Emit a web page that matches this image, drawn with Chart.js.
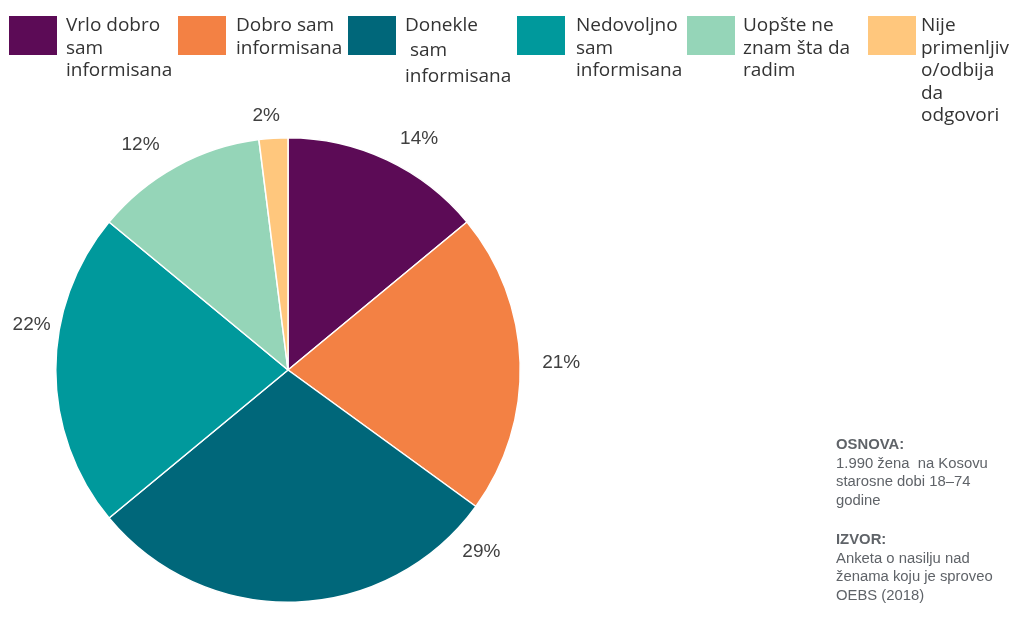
<!DOCTYPE html>
<html><head><meta charset="utf-8">
<script src="https://cdn.jsdelivr.net/npm/chart.js@4/dist/chart.umd.min.js"></script>
<style>
html,body{margin:0;padding:0;background:#fff;width:1013px;height:624px;overflow:hidden;}
#wrap{position:relative;width:1013px;height:624px;}
canvas{position:absolute;left:0;top:0;}
.sw{position:absolute;top:16px;width:48px;height:39px;}
.tx{position:absolute;font-family:"Open Sans","Noto Sans",sans-serif;font-size:19px;line-height:22.5px;color:#333;white-space:pre;}
#notes{position:absolute;left:836px;top:435px;font-family:"Liberation Sans",Arial,sans-serif;font-size:14px;line-height:18.5px;color:#5f6368;transform:scaleX(1.06);transform-origin:0 0;white-space:nowrap;}
#notes b{display:block;}
</style></head>
<body><div id="wrap"><canvas id="c" width="1013" height="624"></canvas><div id="legend"></div>
<div id="notes"><b>OSNOVA:</b>1.990 žena&nbsp; na Kosovu<br>starosne dobi 18–74<br>godine<div style="height:21px"></div><b>IZVOR:</b>Anketa o nasilju nad<br>ženama koju je sproveo<br>OEBS (2018)</div>
</div>
<script>
const categories = [
  ["Vrlo dobro", "sam", "informisana"],
  ["Dobro sam", "informisana"],
  ["Donekle", " sam", "informisana"],
  ["Nedovoljno", "sam", "informisana"],
  ["Uopšte ne", "znam šta da", "radim"],
  ["Nije", "primenljiv", "o/odbija", "da", "odgovori"]
];
const values = [14, 21, 29, 22, 12, 2];
const colors = ["#5C0B56", "#F38144", "#00677A", "#00999C", "#95D5B8", "#FFC77D"];
const legendX = [9, 178, 348, 517, 687, 868];
const legendTextX = [66, 236, 405, 576, 743, 921];
const legendLineH = [22.5, 22.5, 25.5, 22.5, 22.5, 22.5];
const labelAngleShift = [4.3, 0.3, -45, 9.9, -4.4, -1.3];
const labelRadiusExtra = [34, 41, 33, 28, 37, 23];

// legend (HTML so that labels wrap like the reference)
const lg = document.getElementById('legend');
categories.forEach((c, i) => {
  const sw = document.createElement('div');
  sw.className = 'sw';
  sw.style.left = legendX[i] + 'px';
  sw.style.background = colors[i];
  lg.appendChild(sw);
  const tx = document.createElement('div');
  tx.className = 'tx';
  tx.style.left = legendTextX[i] + 'px';
  tx.style.lineHeight = legendLineH[i] + 'px';
  tx.style.top = (13.4 - (legendLineH[i] - 22.5) / 2) + 'px';
  tx.textContent = c.join('\n');
  lg.appendChild(tx);
});

const labelPlugin = {
  id: 'pctLabels',
  afterDatasetsDraw(chart) {
    const ctx = chart.ctx;
    const meta = chart.getDatasetMeta(0);
    ctx.save();
    ctx.font = '19px "Liberation Sans", Arial, sans-serif';
    ctx.fillStyle = '#404040';
    ctx.textAlign = 'center';
    ctx.textBaseline = 'middle';
    meta.data.forEach((arc, i) => {
      const p = arc.getProps(['x','y','startAngle','endAngle','outerRadius'], true);
      const a = (p.startAngle + p.endAngle) / 2 + labelAngleShift[i] * Math.PI / 180;
      const r = p.outerRadius + labelRadiusExtra[i];
      ctx.fillText(values[i] + '%', p.x + Math.cos(a) * r, p.y + Math.sin(a) * r);
    });
    ctx.restore();
  }
};

new Chart(document.getElementById('c'), {
  type: 'pie',
  data: {
    labels: categories.map(c => c.join(' ')),
    datasets: [{ data: values, backgroundColor: colors, borderColor: '#ffffff', borderWidth: 1.5 }]
  },
  options: {
    responsive: false,
    animation: false,
    layout: { padding: { left: 55, right: 492, top: 137, bottom: 21 } },
    plugins: { legend: { display: false }, tooltip: { enabled: false } }
  },
  plugins: [labelPlugin]
});
</script></body></html>
